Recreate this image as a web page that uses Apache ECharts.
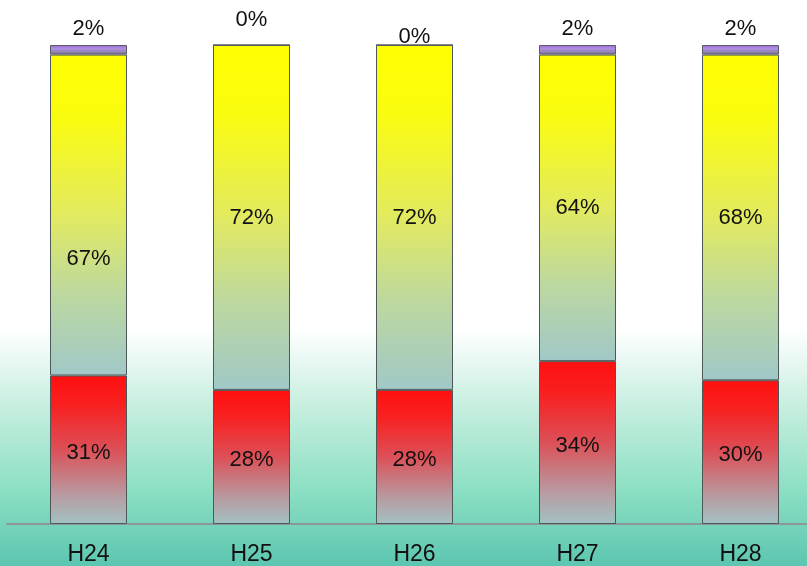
<!DOCTYPE html>
<html>
<head>
<meta charset="utf-8">
<script src="https://cdn.jsdelivr.net/npm/echarts@6/dist/echarts.min.js"></script>
<style>
  html, body { margin: 0; padding: 0; }
  #chart { width: 807px; height: 566px; }
</style>
</head>
<body>
<div id="chart"></div>
<script>
// 数据
const categories = ["H24", "H25", "H26", "H27", "H28"];
const redValues = [31, 28, 28, 34, 30];
const yellowValues = [67, 72, 72, 64, 68];
const purpleValues = [2, 0, 0, 2, 2];

const font = "'Liberation Sans Narrow', 'Liberation Sans', Arial, sans-serif";

function vGrad(stops) {
  return {
    type: "linear", x: 0, y: 0, x2: 0, y2: 1,
    colorStops: stops.map(([offset, color]) => ({ offset, color })),
  };
}

const labelBase = {
  show: true,
  color: "#111",
  fontSize: 22,
  fontFamily: font,
  formatter: "{c}%",
};

// 个别标签位置微调
const yellowOffsets = [[0, 44], [0, 0], [0, 0], [0, 0], [0, 0]];
const purpleOffsets = [[0, 0], [0, -9], [0, 8], [0, 0], [0, 0]];

const chart = echarts.init(document.getElementById("chart"));
chart.setOption({
  backgroundColor: vGrad([
    [0, "#ffffff"],
    [0.58, "#ffffff"],
    [0.72, "#c6eedf"],
    [0.86, "#8ee0c4"],
    [1, "#5cc6b0"],
  ]),
  grid: { left: 7, right: -15, top: 45, bottom: 42, outerBoundsMode: "none" },
  xAxis: {
    type: "category",
    data: categories,
    axisTick: { show: false },
    axisLine: { lineStyle: { color: "#8c9898", width: 2 } },
    axisLabel: { color: "#111", fontSize: 23, fontFamily: font, margin: 19 },
  },
  yAxis: {
    type: "value",
    min: 0,
    max: 100,
    show: false,
    splitLine: { show: false },
  },
  series: [
    {
      name: "red",
      type: "bar",
      stack: "total",
      barWidth: 77,
      data: redValues,
      itemStyle: {
        color: vGrad([
          [0, "#ff1010"],
          [0.2, "#f82020"],
          [0.5, "#dc5058"],
          [0.8, "#b89aa0"],
          [1, "#a2c2c4"],
        ]),
        borderColor: "#4e5858",
        borderWidth: 1,
      },
      label: { ...labelBase, position: "inside", offset: [0, 3] },
    },
    {
      name: "yellow",
      type: "bar",
      stack: "total",
      data: yellowValues.map((v, i) => ({
        value: v,
        label: { offset: yellowOffsets[i] },
      })),
      itemStyle: {
        color: vGrad([
          [0, "#ffff00"],
          [0.2, "#fafc10"],
          [0.5, "#e2ea60"],
          [0.75, "#bcd8a0"],
          [1, "#a0c8c8"],
        ]),
        borderColor: "#4e5858",
        borderWidth: 1,
      },
      label: { ...labelBase, position: "inside" },
    },
    {
      name: "purple",
      type: "bar",
      stack: "total",
      data: purpleValues.map((v, i) => ({
        value: v,
        label: { offset: purpleOffsets[i] },
      })),
      itemStyle: {
        color: vGrad([
          [0, "#9a6ad8"],
          [0.4, "#b090e0"],
          [1, "#7a7890"],
        ]),
        borderColor: "#5a5a6a",
        borderWidth: 1,
      },
      label: { ...labelBase, position: "top", distance: 5 },
    },
  ],
});
</script>
</body>
</html>
